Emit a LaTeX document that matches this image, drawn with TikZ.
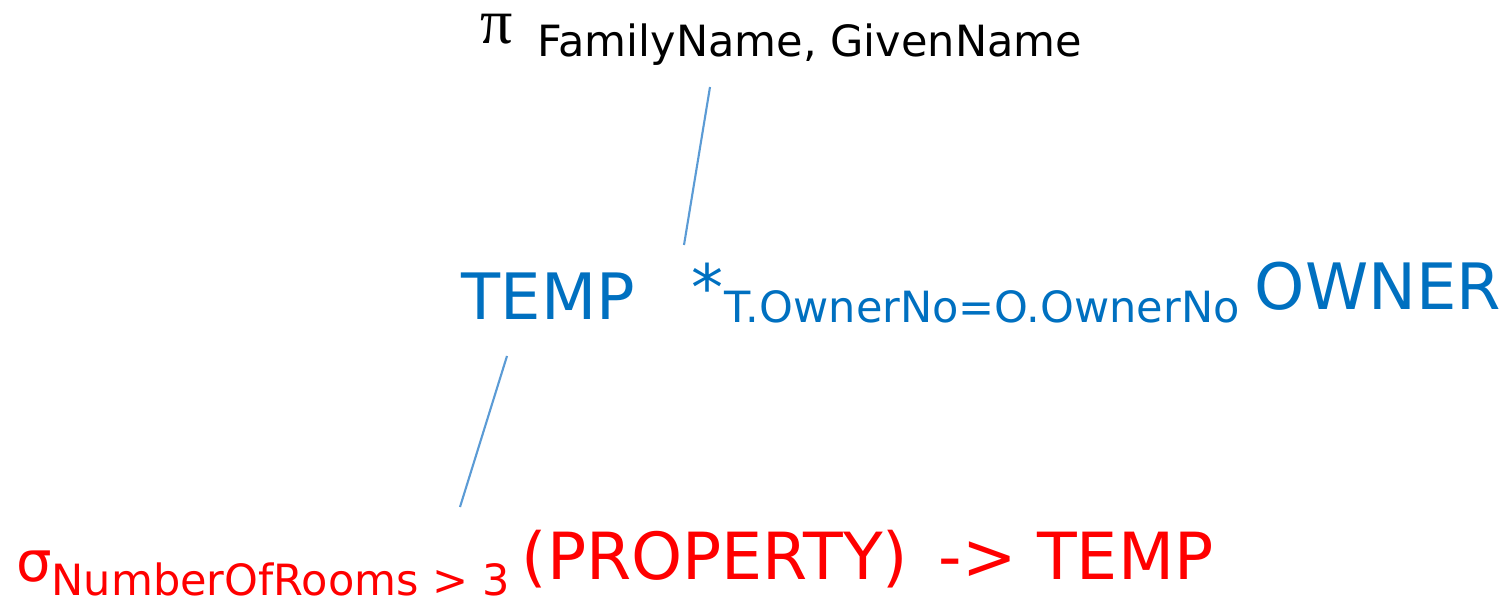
\documentclass[tikz,border=0pt]{standalone}
\usepackage{fontspec}
\setmainfont{DejaVu Sans}
\newfontfamily\pifont{Liberation Serif}
\definecolor{reltext}{HTML}{0070C0}
\definecolor{relline}{HTML}{5B9BD5}
\definecolor{selred}{HTML}{FF0000}
\begin{document}
\begin{tikzpicture}[x=0.02cm,y=-0.02cm,thick,
    big node/.style={inner sep=0pt,anchor=base west,font=\fontsize{36.4pt}{40pt}\selectfont},
    sub node/.style={inner sep=0pt,anchor=base west,font=\fontsize{24.5pt}{27pt}\selectfont},
    link/.style={draw=relline,line width=1.2pt}]

            \useasboundingbox (0,0) rectangle (1511,597);

            \node[big node, text height=0.5em] (pi) at (480,44) {\pifont π};
            \node[sub node] (attrs) at (537,57) {FamilyName, GivenName};

            \node[big node, text=reltext] (temp) at (461,320) {TEMP};
            \node[big node, text=reltext] (join) at (691,311) {*};
            \node[sub node, text=reltext] (cond) at (724,323) {T.OwnerNo=O.OwnerNo};
            \node[big node, text=reltext] (owner) at (1254,310) {OWNER};

            \node[big node, text=selred, font=\fontsize{31.9pt}{34pt}\selectfont] (sigma) at (16,582) {σ};
            \node[sub node, text=selred, text depth=0pt] (pred) at (51,595) {NumberOfRooms > 3};
            \node[big node, text=selred, font=\fontsize{37pt}{40pt}\selectfont] (prop) at (521,580) {(PROPERTY)};
            \node[big node, text=selred, font=\fontsize{37pt}{40pt}\selectfont] (into) at (938,580) {-> TEMP};

            % \path[every node/.style={font=\sffamily\small}]
            \coordinate (a1) at (710,87);
            \coordinate (a2) at (684,245);
            \coordinate (b1) at (507,356);
            \coordinate (b2) at (460,507);

            \draw[link] (a1) to (a2);
            \draw[link] (b1) to (b2);

        \end{tikzpicture}
\end{document}
